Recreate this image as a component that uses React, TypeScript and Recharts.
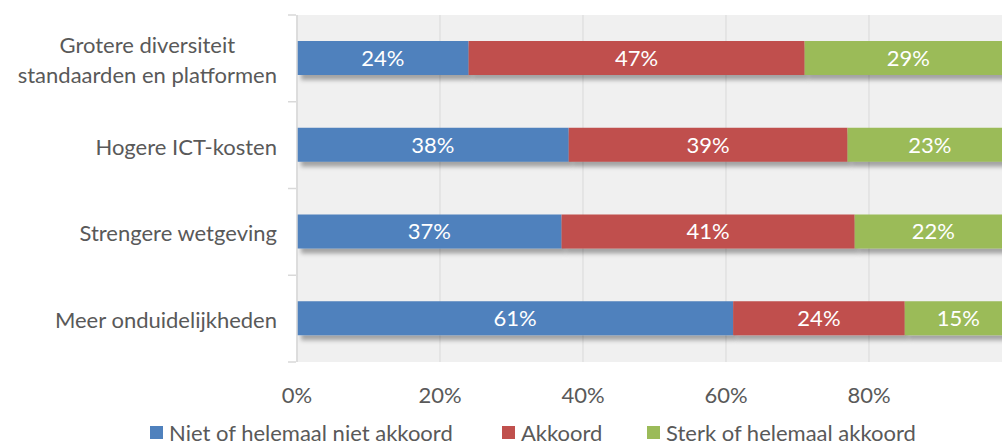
import { BarChart, Bar, XAxis, YAxis, CartesianGrid, LabelList } from 'recharts';

const categories = [
  'Grotere diversiteit\nstandaarden en platformen',
  'Hogere ICT-kosten',
  'Strengere wetgeving',
  'Meer onduidelijkheden',
];
const seriesNames = ['Niet of helemaal niet akkoord', 'Akkoord', 'Sterk of helemaal akkoord'];
const nietAkkoord = [24, 38, 37, 61];
const akkoord = [47, 39, 41, 24];
const sterkAkkoord = [29, 23, 22, 15];
const xTicks = [0, 20, 40, 60, 80];

const COLORS = ['#4f81bd', '#c0504d', '#9bbb59'];
const KEYS = ['niet', 'akkoord', 'sterk'];
const FONT = 'Lato, "Open Sans", sans-serif';
const TEXT = '#595959';
const FS = 22;

const W = 1012;
const H = 441;
const M = { top: 15, right: 0, bottom: 0, left: 0 };
const X_AXIS_H = 79;
const AXIS_X = 297;
const BAND = (H - M.top - X_AXIS_H) / categories.length;

const data = categories.map((name, i) => ({
  name,
  niet: nietAkkoord[i],
  akkoord: akkoord[i],
  sterk: sterkAkkoord[i],
}));

let ctx: CanvasRenderingContext2D | null = null;
function textWidth(s: string) {
  if (!ctx) ctx = document.createElement('canvas').getContext('2d');
  if (!ctx) return s.length * 11;
  ctx.font = `${FS}px Lato`;
  return ctx.measureText(s).width;
}

function YTick(props: any) {
  const { y, payload, index } = props;
  const lines: string[] = String(payload.value).split('\n');
  const right = AXIS_X - 20;
  const w = Math.max(...lines.map(textWidth));
  const cx = right - w / 2;
  const top = y - ((lines.length - 1) * 30) / 2;
  return (
    <g>
      {lines.map((l, i) => (
        <text key={i} x={lines.length > 1 ? cx : right} y={top + i * 30 + 1}
          textAnchor={lines.length > 1 ? 'middle' : 'end'} dominantBaseline="central"
          fill={TEXT} fontSize={FS} fontFamily={FONT}>{l}</text>
      ))}
      <line x1={AXIS_X - 9} x2={AXIS_X - 1} y1={y - BAND / 2} y2={y - BAND / 2} stroke="#d9d9d9" strokeWidth={1.5} />
      {index === categories.length - 1 && (
        <line x1={AXIS_X - 9} x2={AXIS_X - 1} y1={y + BAND / 2} y2={y + BAND / 2} stroke="#d9d9d9" strokeWidth={1.5} />
      )}
    </g>
  );
}

function XTick(props: any) {
  const { x, payload } = props;
  return (
    <text x={x} y={H - X_AXIS_H + 32} textAnchor="middle" dominantBaseline="central"
      fill={TEXT} fontSize={FS} fontFamily={FONT}>{payload.value}%</text>
  );
}

function ShadowBar(props: any) {
  const { x, y, width, height, fill } = props;
  if (!width || width <= 0) return null;
  return <rect x={x} y={y} width={width} height={height} fill={fill} filter="url(#barShadow)" />;
}

const legendWidths = [352, 145, 320];

export default function App() {
  return (
    <div style={{ position: 'absolute', left: 0, top: 0, width: 1002, height: H, overflow: 'hidden', background: '#fff' }}>
      <svg width={0} height={0} style={{ position: 'absolute' }}>
        <defs>
          <filter id="barShadow" x="-5%" y="-20%" width="110%" height="160%">
            <feDropShadow dx={4} dy={5} stdDeviation={2.2} floodColor="#000" floodOpacity={0.32} />
          </filter>
        </defs>
      </svg>
      <BarChart width={W} height={H} data={data} layout="vertical" margin={M}>
        <CartesianGrid horizontal={false} stroke="#d9d9d9" fill="#f0f0f0" />
        <XAxis type="number" domain={[0, 100]} ticks={xTicks} axisLine={false} tickLine={false}
          tick={<XTick />} height={X_AXIS_H} />
        <YAxis type="category" dataKey="name" width={AXIS_X} axisLine={{ stroke: '#d9d9d9', strokeWidth: 1.5 }}
          tickLine={false} tick={<YTick />} interval={0} />
        {KEYS.map((k, i) => (
          <Bar key={k} dataKey={k} stackId="a" fill={COLORS[i]} barSize={34} isAnimationActive={false}
            shape={<ShadowBar />}>
            <LabelList dataKey={k} position="center" fill="#fff" fontSize={FS} fontFamily={FONT}
              formatter={(v: any) => `${v}%`} />
          </Bar>
        ))}
      </BarChart>
      <div style={{ position: 'absolute', left: 150, top: 419, display: 'flex', fontFamily: FONT, fontSize: FS, color: TEXT, whiteSpace: 'nowrap' }}>
        {seriesNames.map((n, i) => (
          <div key={n} style={{ width: legendWidths[i], display: 'flex', alignItems: 'center' }}>
            <span style={{ width: 13, height: 13, background: COLORS[i], marginRight: 6, display: 'inline-block', flexShrink: 0 }} />
            <span>{n}</span>
          </div>
        ))}
      </div>
    </div>
  );
}
